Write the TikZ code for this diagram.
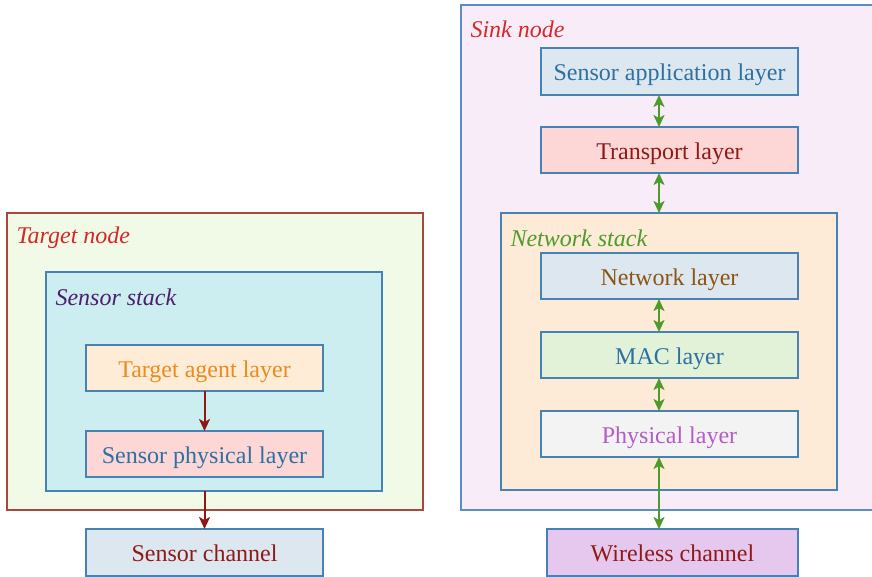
\documentclass[tikz,border=0pt]{standalone}
\usepackage{fontspec}
\setmainfont{Liberation Serif}
\usetikzlibrary{arrows.meta}
\definecolor{tnBorder}{RGB}{166,72,62}
\definecolor{tnFill}{RGB}{240,250,230}
\definecolor{ssFill}{RGB}{205,238,241}
\definecolor{bxBorder}{RGB}{70,130,180}
\definecolor{skFill}{RGB}{249,236,249}
\definecolor{skBorder}{RGB}{95,140,190}
\definecolor{nsFill}{RGB}{253,235,215}
\definecolor{fBlue}{RGB}{220,231,240}
\definecolor{fPink}{RGB}{253,214,214}
\definecolor{fOrange}{RGB}{254,236,214}
\definecolor{fGreen}{RGB}{226,242,217}
\definecolor{fGray}{RGB}{243,243,243}
\definecolor{fPurple}{RGB}{230,200,238}
\definecolor{tOrange}{RGB}{236,138,30}
\definecolor{tBlue}{RGB}{46,112,160}
\definecolor{tRed}{RGB}{142,26,23}
\definecolor{tBrown}{RGB}{140,85,19}
\definecolor{tPurple}{RGB}{180,92,200}
\definecolor{lRed}{RGB}{214,40,40}
\definecolor{lPurple}{RGB}{75,30,110}
\definecolor{lGreen}{RGB}{78,154,42}
\definecolor{aRed}{RGB}{140,25,20}
\begin{document}
\begin{tikzpicture}[x=1pt,y=-1pt,
  every node/.style={font=\fontsize{24}{28}\selectfont},
  cont/.style={draw, line width=1.2pt, anchor=north west, inner sep=0pt, outer sep=0pt},
  layer/.style={draw=bxBorder, line width=1.2pt, minimum width=257pt, minimum height=46pt, inner sep=0pt, outer sep=0pt, text height=19pt, text depth=0.4pt},
  lbl/.style={anchor=west, font=\fontsize{24}{28}\selectfont\itshape},
  redarrow/.style={draw=aRed, line width=2pt, -{Stealth[length=12pt,width=11pt,inset=3pt]}},
  grnarrow/.style={draw=lGreen, line width=2pt, {Stealth[length=12pt,width=11pt,inset=3pt]}-{Stealth[length=12pt,width=11pt,inset=3pt]}}
]
\useasboundingbox (0,0) rectangle (872,577);
% Target side
\node[cont, draw=tnBorder, fill=tnFill, minimum width=416pt, minimum height=297pt] (tn) at (7,213) {};
\node[lbl, text=lRed] (tnl) at (13,238) {Target node};
\node[cont, draw=bxBorder, fill=ssFill, minimum width=336pt, minimum height=219pt] (ss) at (46,272) {};
\node[lbl, text=lPurple] (ssl) at (52,297) {Sensor stack};
\node[layer, fill=fOrange, text=tOrange, minimum width=237pt] (tal) at (204.5,368) {Target agent layer};
\node[layer, fill=fPink, text=tBlue, minimum width=237pt] (spl) at (204.5,454) {Sensor physical layer};
\node[layer, fill=fBlue, text=tRed, minimum width=237pt, minimum height=47pt] (sc) at (204.5,552.5) {Sensor channel};
\draw[redarrow] (tal.south) -- (spl.north);
\draw[redarrow] (spl.south |- ss.south) -- (sc.north);
% Sink side
\node[cont, draw=skBorder, fill=skFill, minimum width=420pt, minimum height=505pt] (sk) at (461,5) {};
\node[lbl, text=lRed] (skl) at (467,29) {Sink node};
\node[layer, fill=fBlue, text=tBlue, minimum height=47pt] (sal) at (669.5,71.5) {Sensor application layer};
\node[layer, fill=fPink, text=tRed] (trl) at (669.5,150) {Transport layer};
\node[cont, draw=bxBorder, fill=nsFill, minimum width=336pt, minimum height=277pt] (ns) at (501,213) {};
\node[lbl, text=lGreen] (nsl) at (507,238) {Network stack};
\node[layer, fill=fBlue, text=tBrown] (nl) at (669.5,276) {Network layer};
\node[layer, fill=fGreen, text=tBlue] (mac) at (669.5,355) {MAC layer};
\node[layer, fill=fGray, text=tPurple] (phy) at (669.5,434) {Physical layer};
\node[layer, fill=fPurple, text=tRed, minimum width=251pt, minimum height=47pt] (wc) at (672.5,552.5) {Wireless channel};
\draw[grnarrow] ([xshift=-10.5pt]sal.south) -- ([xshift=-10.5pt]trl.north);
\draw[grnarrow] ([xshift=-10.5pt]trl.south) -- ([xshift=-10.5pt]trl.south |- ns.north);
\draw[grnarrow] ([xshift=-10.5pt]nl.south) -- ([xshift=-10.5pt]mac.north);
\draw[grnarrow] ([xshift=-10.5pt]mac.south) -- ([xshift=-10.5pt]phy.north);
\draw[grnarrow] ([xshift=-10.5pt]phy.south) -- ([xshift=-10.5pt]phy.south |- wc.north);
\end{tikzpicture}
\end{document}
